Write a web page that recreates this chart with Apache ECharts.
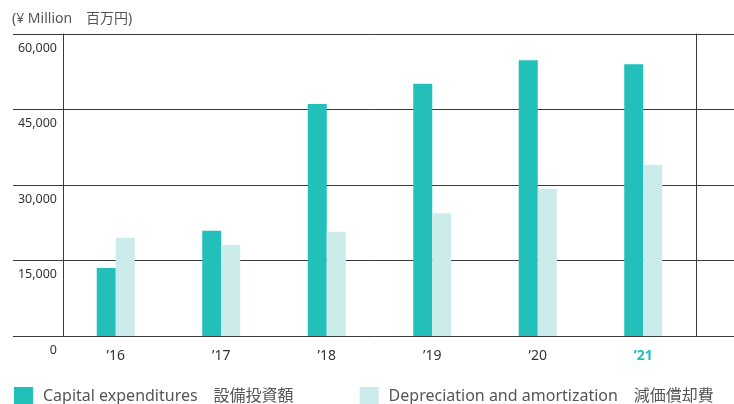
<!DOCTYPE html>
<html><head><meta charset="utf-8">
<script src="https://cdn.jsdelivr.net/npm/echarts@6/dist/echarts.min.js"></script>
<style>html,body{margin:0;padding:0;background:#fff}#c{width:734px;height:404px}</style>
</head><body><div id="c"></div>
<script>
var categories = ["\u201916", "\u201917", "\u201918", "\u201919", "\u201920", "\u201921"];
var capex = [13500, 20900, 46100, 50100, 54800, 54000];
var depreciation = [19500, 18100, 20700, 24400, 29200, 34000];
var yTicks = [0, 15000, 30000, 45000, 60000];
var unitLabel = "(\u00a5 Million\u3000\u767e\u4e07\u5186)";
var seriesNames = ["Capital expenditures\u3000\u8a2d\u5099\u6295\u8cc7\u984d", "Depreciation and amortization\u3000\u6e1b\u4fa1\u511f\u5374\u8cbb"];

var FONT = '"Noto Sans", "Noto Sans CJK JP", sans-serif';
var chart = echarts.init(document.getElementById('c'));
chart.setOption({
  animation: false,
  textStyle: { fontFamily: FONT },
  title: { text: unitLabel, left: 7, top: 7, textStyle: { fontSize: 14, fontWeight: 'normal', color: '#555', fontFamily: FONT } },
  legend: {
    left: 14, top: 387, padding: 0, itemWidth: 19, itemHeight: 19, itemGap: 66, icon: 'rect',
    textStyle: { fontSize: 16, color: '#555', fontFamily: FONT, padding: [0,0,0,5] },
    data: seriesNames
  },
  grid: [
    { left: 13, right: 0, top: 34, bottom: 68 },
    { left: 63, right: 38, top: 34, bottom: 68 }
  ],
  xAxis: [
    { gridIndex: 0, type: 'value', min: 0, max: 1, show: false },
    { gridIndex: 1, type: 'category', data: categories,
      axisLine: { show: false }, axisTick: { show: false },
      axisLabel: { margin: 13, fontSize: 14, color: '#333', fontFamily: FONT,
        formatter: function (v, i) { return i === categories.length - 1 ? '{hl|' + v + '}' : v; },
        rich: { hl: { color: '#22bfbb', fontWeight: 'bold', fontSize: 14, fontFamily: FONT } } }
    }
  ],
  yAxis: [
    { gridIndex: 0, type: 'value', min: 0, max: 60000, interval: 15000,
      axisLine: { show: false }, axisTick: { show: false },
      splitLine: { show: true, lineStyle: { color: '#3a3a3a', width: 1 } },
      axisLabel: { inside: true, margin: 44, align: 'right', verticalAlign: 'top', padding: [8,0,0,0],
        fontSize: 12.5, color: '#333', fontFamily: FONT,
        formatter: function (v) { return yTicks.indexOf(v) >= 0 ? v.toLocaleString('en-US') : ''; } }
    },
    { gridIndex: 1, type: 'value', min: 0, max: 60000, interval: 15000, position: 'left',
      axisLine: { show: true, lineStyle: { color: '#3a3a3a', width: 1 } }, axisTick: { show: false },
      axisLabel: { show: false }, splitLine: { show: false } },
    { gridIndex: 1, type: 'value', min: 0, max: 60000, interval: 15000, position: 'right',
      axisLine: { show: true, lineStyle: { color: '#3a3a3a', width: 1 } }, axisTick: { show: false },
      axisLabel: { show: false }, splitLine: { show: false } }
  ],
  series: [
    { name: seriesNames[0], type: 'bar', xAxisIndex: 1, yAxisIndex: 1, data: capex, barWidth: 19, barGap: '0%',
      itemStyle: { color: '#22bfbb' } },
    { name: seriesNames[1], type: 'bar', xAxisIndex: 1, yAxisIndex: 1, data: depreciation, barWidth: 19, barGap: '0%',
      itemStyle: { color: '#cbeceb' } }
  ]
});
</script></body></html>
